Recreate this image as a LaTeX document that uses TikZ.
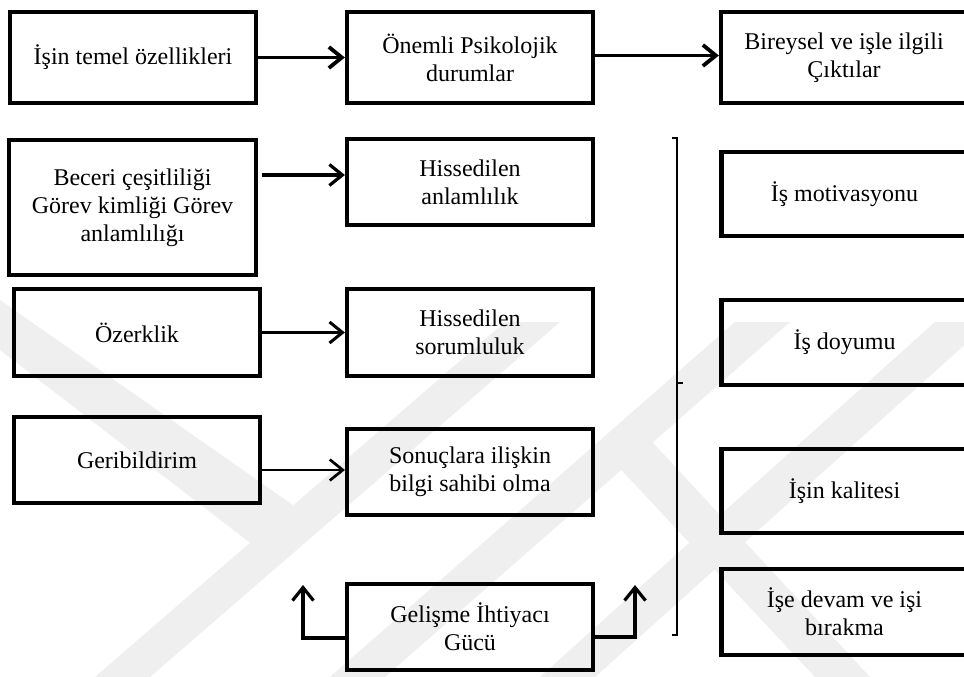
\documentclass[tikz,border=0pt]{standalone}
\usepackage{fontspec}
\setmainfont{Liberation Serif}
\usetikzlibrary{arrows.meta,calc}
\definecolor{wm}{RGB}{239,239,239}
\begin{document}
\begin{tikzpicture}[x=1pt,y=-1pt,
  box/.style={draw=black,line width=4.2pt,align=center,inner sep=2pt,
              font=\fontsize{24}{28}\selectfont},
  arr/.style={line width=3.2pt,-{Straight Barb[length=13pt,width=21pt]}},
  band/.style={fill=wm,draw=none},
]
\useasboundingbox (0,0) rectangle (964,677);
\fill[white] (0,0) rectangle (964,677);

% faint background emblem
\begin{scope}
  \clip (0,0) rectangle (964,677);
  \fill[band] (0,300) -- (0,350) -- (262,552) -- (300,510) -- cycle;
  \fill[band] (95,677) -- (150,677) -- (560,322) -- (505,322) -- cycle;
  \fill[band] (330,677) -- (385,677) -- (790,322) -- (735,322) -- cycle;
  \fill[band] (540,677) -- (595,677) -- (990,322) -- (935,322) -- cycle;
  \fill[band] (598,445) -- (630,418) -- (870,677) -- (815,677) -- cycle;
\end{scope}

% top row
\node[box,minimum width=246pt,minimum height=91pt] (ozell) at (133,57.5) {İşin temel özellikleri};
\node[box,minimum width=246pt,minimum height=91pt] (psiko) at (470,57.5) {Önemli Psikolojik\\durumlar};
\node[box,minimum width=246pt,minimum height=91pt] (cikti) at (844,57.5) {Bireysel ve işle ilgili\\Çıktılar};

% job characteristics
\node[box,minimum width=247pt,minimum height=135pt] (beceri) at (132.5,207.5) {Beceri çeşitliliği\\Görev kimliği Görev\\anlamlılığı};
\node[box,minimum width=246pt,minimum height=87pt] (ozerk) at (137,332.5) {Özerklik};
\node[box,minimum width=246pt,minimum height=86pt] (gerib) at (137,460) {Geribildirim};

% psychological states
\node[box,minimum width=246pt,minimum height=86pt] (anlam) at (470,182) {Hissedilen\\anlamlılık};
\node[box,minimum width=246pt,minimum height=87pt] (sorum) at (470,332.5) {Hissedilen\\sorumluluk};
\node[box,minimum width=246pt,minimum height=86pt] (sonuc) at (470,472) {Sonuçlara ilişkin\\bilgi sahibi olma};
\node[box,minimum width=246pt,minimum height=86pt] (gelis) at (470,627) {Gelişme İhtiyacı\\Gücü};

% outcomes
\node[box,minimum width=246pt,minimum height=84pt] (motiv) at (844.5,194) {İş motivasyonu};
\node[box,minimum width=246pt,minimum height=85pt] (doyum) at (844.5,342.5) {İş doyumu};
\node[box,minimum width=246pt,minimum height=84pt] (kalite) at (844.5,491) {İşin kalitesi};
\node[box,minimum width=246pt,minimum height=86pt] (devam) at (844.5,612) {İşe devam ve işi\\bırakma};

% arrows
\draw[arr,line width=3.8pt] (ozell.east) -- (psiko.west);
\draw[arr,line width=3.8pt] ($(psiko.east)+(0,-2)$) -- ($(cikti.west)+(0,-2)$);
\draw[arr] ($(beceri.east)+(4,-32.5)$) -- ($(anlam.west)+(0,-7)$);
\draw[arr,line width=3pt] (ozerk.east) -- (sorum.west);
\draw[arr,line width=2.7pt] ($(gerib.east |- sonuc.west)+(0,-2)$) -- ($(sonuc.west)+(0,-2)$);

\coordinate (upL) at (303,585);
\coordinate (upR) at (635,585);
\draw[arr] ($(gelis.west)+(0,11)$) -| (upL);
\draw[arr] ($(gelis.east)+(0,10)$) -| (upR);

% bracket grouping the outcomes
\coordinate (brT) at (677,138);
\coordinate (brM) at (677,383);
\coordinate (brB) at (677,635);
\draw[line width=2.8pt] ($(brT)+(-5,0)$) -- (brT) -- (brB) -- ($(brB)+(-5,0)$);
\draw[line width=2.8pt] (brM) -- ($(brM)+(6,0)$);
\end{tikzpicture}
\end{document}
